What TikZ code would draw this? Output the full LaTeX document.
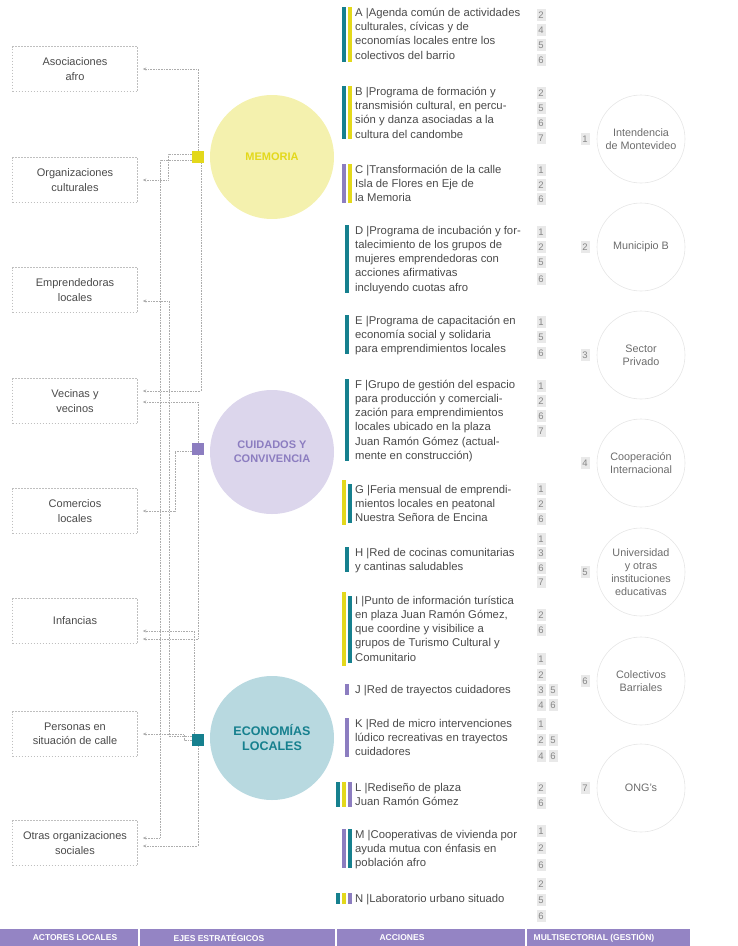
\documentclass[tikz,border=0pt]{standalone}
\usepackage{fontspec}
\setmainfont{Liberation Sans}
\usetikzlibrary{arrows.meta, positioning}
\definecolor{ejyellow}{HTML}{E3D81B}
\definecolor{ejpurple}{HTML}{8C7DC0}
\definecolor{ejteal}{HTML}{16808E}
\definecolor{memfill}{HTML}{F4F1AE}
\definecolor{cuifill}{HTML}{DCD6EC}
\definecolor{ecofill}{HTML}{B8D9E0}
\definecolor{bandpurple}{HTML}{9484C4}
\definecolor{txtgray}{HTML}{4A4A4A}

\begin{document}
\begin{tikzpicture}[
  x=1pt, y=-1pt,
  every node/.style={font=\fontsize{11.3}{14.3}\selectfont, text=txtgray},
  actor/.style={rectangle, draw=gray!50, dash pattern=on 1.6pt off 1.4pt, line width=0.5pt, minimum width=125pt, minimum height=45pt, align=center, inner sep=2pt, font=\fontsize{11}{14.3}\selectfont},
  eje/.style={circle, fill=#1, minimum size=124pt, align=center, inner sep=0pt},
  sq/.style={rectangle, fill=#1, minimum size=12pt, inner sep=0pt},
  acc/.style={anchor=base west, align=left, inner sep=0pt},
  accbar/.style={draw=#1, line width=3.5pt},
  numbox/.style={rectangle, fill=gray!17, text=gray!95, font=\fontsize{9.5}{9.5}\selectfont, minimum width=9pt, minimum height=11.5pt, inner sep=0pt},
  sectorc/.style={circle, draw=gray!20, line width=0.6pt, minimum size=88pt, align=center, inner sep=0pt, font=\fontsize{10.8}{13.2}\selectfont, text=gray!85!black},
  link/.style={-{Stealth[length=3.5pt,width=3pt]}, gray!65, densely dotted, line width=0.6pt, shorten >=5pt},
  bandlabel/.style={text=white, font=\bfseries\fontsize{8.5}{9}\selectfont},
]
\useasboundingbox (0,0) rectangle (738,946);

\node[actor] (afro) at (75,69) {Asociaciones\\afro};
\node[actor] (orgcult) at (75,180) {Organizaciones\\culturales};
\node[actor] (emprend) at (75,290) {Emprendedoras\\locales};
\node[actor] (vecinas) at (75,401) {Vecinas y\\vecinos};
\node[actor] (comercios) at (75,511) {Comercios\\locales};
\node[actor] (infancias) at (75,621) {Infancias};
\node[actor] (personas) at (75,734) {Personas en\\situación de calle};
\node[actor] (otras) at (75,843) {Otras organizaciones\\sociales};

\node[eje=memfill, text=ejyellow, font=\bfseries\fontsize{11}{13}\selectfont] (mem) at (272,157) {MEMORIA};
\node[eje=cuifill, text=ejpurple, font=\bfseries\fontsize{11}{14}\selectfont] (cui) at (272,452) {CUIDADOS Y\\CONVIVENCIA};
\node[eje=ecofill, text=ejteal, font=\bfseries\fontsize{12.5}{15}\selectfont] (eco) at (272,738) {ECONOMÍAS\\LOCALES};

\node[sq=ejyellow] (memsq) at (198,157) {};
\node[sq=ejpurple] (cuisq) at (198,449) {};
\node[sq=ejteal] (ecosq) at (198,740) {};

\draw[link] (memsq.north) |- (afro.east);
\draw[link] ([yshift=3pt]memsq.west) -- ++(-24,0) |- (orgcult.east);
\draw[link] ([yshift=-3pt]memsq.west) -- ++(-32,0) |- ([yshift=5pt]otras.east);
\draw[link] ([xshift=3pt]memsq.south) |- ([yshift=10pt]vecinas.east);
\draw[link] (cuisq.north) |- ([yshift=-1pt]vecinas.east);
\draw[link] ([yshift=-2pt]cuisq.west) -- ++(-17,0) |- (comercios.east);
\draw[link] (cuisq.south) |- ([yshift=-18pt]infancias.east);
\draw[link] ([xshift=-4pt]ecosq.north) |- ([yshift=-10pt]infancias.east);
\draw[link] (ecosq.west) -- ++(-8,0) |- (personas.east);
\draw[link] ([yshift=4pt]ecosq.west) -- ++(-23,0) |- ([yshift=-11pt]emprend.east);
\draw[link] (ecosq.south) |- ([yshift=-3pt]otras.east);

\draw[accbar=ejteal] (344,7) -- (344,62);
\draw[accbar=ejyellow] (350,7) -- (350,62);
\node[acc] (accA) at (355,59) {A |Agenda común de actividades\\culturales, cívicas y de\\economías locales entre los\\colectivos del barrio};
\draw[accbar=ejteal] (344,86) -- (344,139);
\draw[accbar=ejyellow] (350,86) -- (350,139);
\node[acc] (accB) at (355,138) {B |Programa de formación y\\transmisión cultural, en percu-\\sión y danza asociadas a la\\cultura del candombe};
\draw[accbar=ejpurple] (344,164) -- (344,203);
\draw[accbar=ejyellow] (350,164) -- (350,203);
\node[acc] (accC) at (355,201.6) {C |Transformación de la calle\\Isla de Flores en Eje de\\la Memoria};
\draw[accbar=ejteal] (347,225) -- (347,293);
\node[acc] (accD) at (355,291.2) {D |Programa de incubación y for-\\talecimiento de los grupos de\\mujeres emprendedoras con\\acciones afirmativas\\incluyendo cuotas afro};
\draw[accbar=ejteal] (347,315) -- (347,354);
\node[acc] (accE) at (355,352.6) {E |Programa de capacitación en\\economía social y solidaria\\para emprendimientos locales};
\draw[accbar=ejteal] (347,379) -- (347,461);
\node[acc] (accF) at (355,459.5) {F |Grupo de gestión del espacio\\para producción y comerciali-\\zación para emprendimientos\\locales ubicado en la plaza\\Juan Ramón Gómez (actual-\\mente en construcción)};
\draw[accbar=ejyellow] (344,480) -- (344,525);
\draw[accbar=ejteal] (350,484) -- (350,523);
\node[acc] (accG) at (355,521.6) {G |Feria mensual de emprendi-\\mientos locales en peatonal\\Nuestra Señora de Encina};
\draw[accbar=ejteal] (347,547) -- (347,572);
\node[acc] (accH) at (355,570.3) {H |Red de cocinas comunitarias\\y cantinas saludables};
\draw[accbar=ejyellow] (344,592) -- (344,666);
\draw[accbar=ejteal] (350,596) -- (350,663);
\node[acc] (accI) at (355,661.2) {I |Punto de información turística\\en plaza Juan Ramón Gómez,\\que coordine y visibilice a\\grupos de Turismo Cultural y\\Comunitario};
\draw[accbar=ejpurple] (347,684) -- (347,695);
\node[acc] (accJ) at (355,693) {J |Red de trayectos cuidadores};
\draw[accbar=ejpurple] (347,718) -- (347,757);
\node[acc] (accK) at (355,755.6) {K |Red de micro intervenciones\\lúdico recreativas en trayectos\\cuidadores};
\draw[accbar=ejteal] (338,782) -- (338,807);
\draw[accbar=ejyellow] (344,782) -- (344,807);
\draw[accbar=ejpurple] (350,782) -- (350,807);
\node[acc] (accL) at (355,805.3) {L |Rediseño de plaza\\Juan Ramón Gómez};
\draw[accbar=ejpurple] (344,829) -- (344,868);
\draw[accbar=ejteal] (350,829) -- (350,868);
\node[acc] (accM) at (355,866.6) {M |Cooperativas de vivienda por\\ayuda mutua con énfasis en\\población afro};
\draw[accbar=ejteal] (338,893) -- (338,904);
\draw[accbar=ejyellow] (344,893) -- (344,904);
\draw[accbar=ejpurple] (350,893) -- (350,904);
\node[acc] (accN) at (355,902) {N |Laboratorio urbano situado};

\node[numbox] (nA2) at (541,15) {2};
\node[numbox] (nA4) at (541,30) {4};
\node[numbox] (nA5) at (541,45) {5};
\node[numbox] (nA6) at (541,60) {6};
\node[numbox] (nB2) at (541,93) {2};
\node[numbox] (nB5) at (541,108) {5};
\node[numbox] (nB6) at (541,123) {6};
\node[numbox] (nB7) at (541,138) {7};
\node[numbox] (nC1) at (541,170) {1};
\node[numbox] (nC2) at (541,185) {2};
\node[numbox] (nC6) at (541,199) {6};
\node[numbox] (nD1) at (541,232) {1};
\node[numbox] (nD2) at (541,247) {2};
\node[numbox] (nD5) at (541,262) {5};
\node[numbox] (nD6) at (541,279) {6};
\node[numbox] (nE1) at (541,322) {1};
\node[numbox] (nE5) at (541,337) {5};
\node[numbox] (nE6) at (541,353) {6};
\node[numbox] (nF1) at (541,386) {1};
\node[numbox] (nF2) at (541,401) {2};
\node[numbox] (nF6) at (541,416) {6};
\node[numbox] (nF7) at (541,431) {7};
\node[numbox] (nG1) at (541,489) {1};
\node[numbox] (nG2) at (541,504) {2};
\node[numbox] (nG6) at (541,519) {6};
\node[numbox] (nH1) at (541,539) {1};
\node[numbox] (nH3) at (541,553) {3};
\node[numbox] (nH6) at (541,568) {6};
\node[numbox] (nH7) at (541,582) {7};
\node[numbox] (nI2) at (541,615) {2};
\node[numbox] (nI6) at (541,630) {6};
\node[numbox] (nJ1) at (541,659) {1};
\node[numbox] (nJ2) at (541,675) {2};
\node[numbox] (nJ3) at (541,690) {3};
\node[numbox] (nJ4) at (541,705) {4};
\node[numbox] (nJ5) at (553,690) {5};
\node[numbox] (nJ6) at (553,705) {6};
\node[numbox] (nK1) at (541,724) {1};
\node[numbox] (nK2) at (541,740) {2};
\node[numbox] (nK4) at (541,756) {4};
\node[numbox] (nK5) at (553,740) {5};
\node[numbox] (nK6) at (553,756) {6};
\node[numbox] (nL2) at (541,788) {2};
\node[numbox] (nL6) at (541,803) {6};
\node[numbox] (nM1) at (541,831) {1};
\node[numbox] (nM2) at (541,848) {2};
\node[numbox] (nM6) at (541,865) {6};
\node[numbox] (nN2) at (541,884) {2};
\node[numbox] (nN5) at (541,900) {5};
\node[numbox] (nN6) at (541,916) {6};

\node[sectorc] (intendencia) at (641,139) {Intendencia\\de Montevideo};
\node[sectorc] (municipio) at (641,247) {Municipio B};
\node[sectorc] (privado) at (641,355) {Sector\\Privado};
\node[sectorc] (cooperacion) at (641,463) {Cooperación\\Internacional};
\node[sectorc] (universidad) at (641,572) {Universidad\\y otras\\instituciones\\educativas};
\node[sectorc] (colectivos) at (641,681) {Colectivos\\Barriales};
\node[sectorc] (ongs) at (641,788) {ONG's};
\node[numbox] (k1) at (585,139) {1};
\node[numbox] (k2) at (585,247) {2};
\node[numbox] (k3) at (585,355) {3};
\node[numbox] (k4) at (585,463) {4};
\node[numbox] (k5) at (585,572) {5};
\node[numbox] (k6) at (585,681) {6};
\node[numbox] (k7) at (585,788) {7};

\fill[bandpurple] (0,929) rectangle (690,946);
\draw[white, line width=1.5pt] (139,929) -- (139,946) (336,929) -- (336,946) (526,929) -- (526,946);
\node[bandlabel] (bandact) at (75,938) {ACTORES LOCALES};
\node[bandlabel] (bandeje) at (219,938) {EJES ESTRATÉGICOS};
\node[bandlabel] (bandacc) at (402,938) {ACCIONES};
\node[bandlabel] (bandmul) at (594,938) {MULTISECTORIAL (GESTIÓN)};
\end{tikzpicture}
\end{document}
